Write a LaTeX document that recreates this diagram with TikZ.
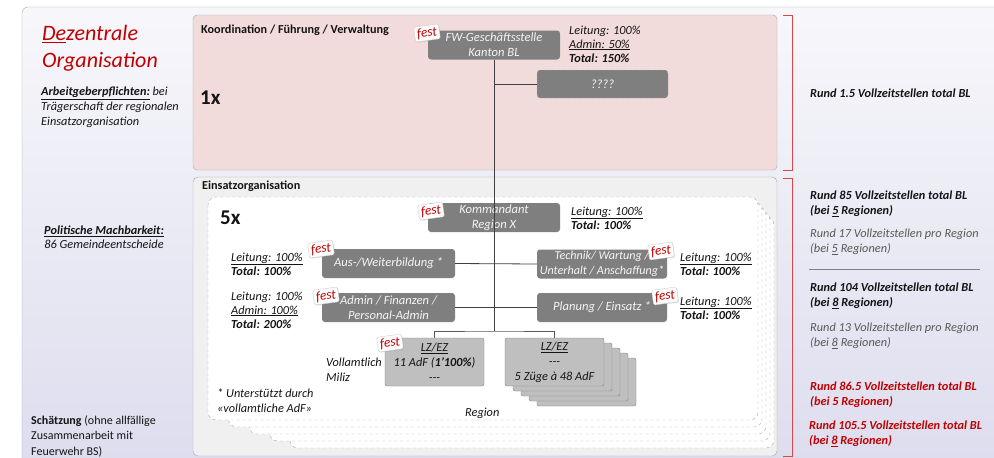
\documentclass[tikz,border=0pt]{standalone}
\usepackage{fontspec}
\setmainfont{Carlito}
\usetikzlibrary{shadows}

\definecolor{paneltop}{HTML}{F7F7FB}
\definecolor{panelbot}{HTML}{DCDCEE}
\definecolor{pinkfill}{HTML}{F2DCDB}
\definecolor{eofill}{HTML}{F0F0F0}
\definecolor{boxgray}{HTML}{7F7F7F}
\definecolor{lightbox}{HTML}{BFBFBF}
\definecolor{darkred}{HTML}{C00000}
\definecolor{bracketred}{HTML}{D9474B}
\definecolor{softtext}{HTML}{595959}

\begin{document}
\begin{tikzpicture}[x=1pt, y=-1pt,
	every node/.style={inner sep=0pt, text=black!92},
	darkbox/.style={rounded corners=3pt, fill=boxgray, text=white!92!gray, align=center,
		font=\fontsize{12.6}{15}\selectfont\itshape, minimum width=132pt, minimum height=29pt},
	lzbox/.style={draw=gray, fill=lightbox, rounded corners=2pt, align=center,
		font=\fontsize{12.3}{15}\selectfont\itshape, minimum width=99pt, minimum height=48pt},
	festtag/.style={draw=gray!40, fill=white, rounded corners=1.5pt, rotate=8, text=darkred,
		font=\fontsize{13.5}{14}\selectfont\itshape, inner xsep=2.5pt, inner ysep=2pt,
		drop shadow={opacity=0.25, shadow xshift=0.8pt, shadow yshift=-0.8pt}},
	note/.style={anchor=west, align=left, font=\fontsize{12.3}{14}\selectfont\itshape},
	sidenote/.style={anchor=west, align=left, font=\fontsize{12.3}{15}\selectfont\itshape},
	boxtitle/.style={anchor=west, font=\fontsize{12.2}{14}\selectfont\bfseries},
	bigcount/.style={anchor=west, font=\fontsize{21}{24}\selectfont\bfseries},
	link/.style={draw=black!75, line width=0.8pt},
	bracket/.style={draw=bracketred, line width=0.9pt}]

	\useasboundingbox (0,0) rectangle (994,458);
	\clip (0,0) rectangle (994,458);

	% panels
	\draw[gray!70, top color=paneltop, bottom color=panelbot, rounded corners=6pt]
		(22,7) rectangle (1010,480);
	\draw[gray!70, fill=pinkfill, rounded corners=4pt] (193,15) rectangle (777,170);
	\draw[gray!70, fill=eofill, rounded corners=5pt] (193,177) rectangle (777,456);
	\node[boxtitle] (koord) at (201,30) {Koordination / Führung / Verwaltung};
	\node[boxtitle] (eo) at (202,186) {Einsatzorganisation};
	\node[bigcount] (onex) at (200,98) {1x};

	% regions stack
	\foreach \k in {4,3,2,1,0}
		\draw[gray!65, dashed, fill=white, rounded corners=8pt]
			(208+20.5*\k,197+5*\k) rectangle (758+4*\k,420+7*\k);
	\node[bigcount] (fivex) at (220,218) {5x};

	% left column
	\node[anchor=west, align=left, text=darkred, font=\fontsize{22}{27}\selectfont\itshape]
		(title) at (42,48.5) {\underline{De}zentrale\\Organisation};
	\node[sidenote] (agp) at (41,107) {\textbf{\underline{Arbeitgeberpflichten:}} bei\\
		Trägerschaft der regionalen\\Einsatzorganisation};
	\node[anchor=west, align=center, font=\fontsize{12.3}{14}\selectfont\itshape]
		(polit) at (44,237) {\textbf{\underline{Politische Machbarkeit:}}\\86 Gemeindeentscheide};
	\node[anchor=west, align=left, font=\fontsize{12}{15.5}\selectfont]
		(schaetz) at (31,436) {\textbf{Schätzung} (ohne allfällige\\Zusammenarbeit mit\\Feuerwehr BS)};

	% cantonal office
	\node[darkbox] (fwgs) at (494,45) {FW-Geschäftsstelle\\Kanton BL};
	\node[darkbox, draw=gray!45, dashed, minimum width=131pt, minimum height=28pt]
		(unknown) at (602.5,84) {????};
	\node[note] (fwgsinfo) at (569,44) {Leitung: 100\%\\\underline{Admin: 50\%}\\\textbf{Total: 150\%}};

	% region
	\node[darkbox] (kdt) at (494,217.5) {Kommandant\\Region X};
	\node[darkbox, minimum width=133pt] (ausb) at (388.5,263.5) {Aus-/Weiterbildung *};
	\node[darkbox, minimum width=130pt, font=\fontsize{12.1}{14.5}\selectfont\itshape]
		(technik) at (602,264) {Technik/ Wartung /\\Unterhalt / Anschaffung*};
	\node[darkbox, minimum width=133pt] (admin) at (388.5,307.5) {Admin / Finanzen /\\Personal-Admin};
	\node[darkbox, minimum width=130pt] (planung) at (602,307.5) {Planung / Einsatz *};

	\node[note] (kdtinfo) at (571,218) {\underline{Leitung: 100\%}\\\textbf{Total: 100\%}};
	\node[note] (ausbinfo) at (231,264) {\underline{Leitung: 100\%}\\\textbf{Total: 100\%}};
	\node[note] (techinfo) at (680,264) {\underline{Leitung: 100\%}\\\textbf{Total: 100\%}};
	\node[note] (admininfo) at (231,310) {Leitung: 100\%\\\underline{Admin: 100\%}\\\textbf{Total: 200\%}};
	\node[note] (planinfo) at (680,308) {\underline{Leitung: 100\%}\\\textbf{Total: 100\%}};

	% fire brigades
	\foreach \k in {4,3,2,1}
		\draw[gray, fill=lightbox, rounded corners=2pt]
			(505+8*\k,338+5*\k) rectangle (604+8*\k,386+5*\k);
	\node[lzbox] (lzez) at (434.5,362) {\underline{LZ/EZ}\\11 AdF (\textbf{1’100\%})\\{-}{-}{-}};
	\node[lzbox] (lzezb) at (554.5,362) {\underline{LZ/EZ}\\{-}{-}{-}\\5 Züge à 48 AdF};
	\node[note, font=\fontsize{12.3}{15}\selectfont\itshape] (kind) at (326,369.5) {Vollamtlich\\Miliz};
	\node[note, font=\fontsize{12.3}{15}\selectfont\itshape] (star) at (217,400.5)
		{* Unterstützt durch\\«vollamtliche AdF»};
	\node[note] (region) at (465,413) {Region};

	% connectors
	\coordinate (trunk) at (494,331);
	\draw[link] (fwgs.south) -- (trunk);
	\draw[link] (fwgs.south |- unknown.west) -- (unknown.west);
	\draw[link] (ausb.east) -- (technik.west);
	\draw[link] (admin.east) -- (planung.west);
	\draw[link, draw=black!65] (lzez.north) |- (trunk) -| (lzezb.north);

	% fest tags
	\node[festtag] (festa) at (427,33) {fest};
	\node[festtag] (festb) at (431,211) {fest};
	\node[festtag] (festc) at (321,249) {fest};
	\node[festtag] (festd) at (326,296) {fest};
	\node[festtag] (feste) at (661,251) {fest};
	\node[festtag] (festf) at (665,296) {fest};
	\node[festtag] (festg) at (390,343) {fest};

	% right column
	\draw[bracket] (783,15) -- (792,15) -- (792,170) -- (783,170);
	\draw[bracket] (783,178) -- (792,178) -- (792,456) -- (783,456);
	\node[sidenote, font=\fontsize{12.3}{15}\selectfont\bfseries\itshape] (sum1) at (810,93)
		{Rund 1.5 Vollzeitstellen total BL};
	\node[sidenote, font=\fontsize{12.3}{15}\selectfont\bfseries\itshape] (sum85) at (810,203.5)
		{Rund 85 Vollzeitstellen total BL\\(bei \underline{5} Regionen)};
	\node[sidenote, text=softtext] (per17) at (810,242)
		{Rund 17 Vollzeitstellen pro Region\\(bei \underline{5} Regionen)};
	\draw[gray, line width=1pt] (809,269) -- (980,269);
	\node[sidenote, font=\fontsize{12.3}{15}\selectfont\bfseries\itshape] (sum104) at (810,295.5)
		{Rund 104 Vollzeitstellen total BL\\(bei \underline{8} Regionen)};
	\node[sidenote, text=softtext] (per13) at (810,335.5)
		{Rund 13 Vollzeitstellen pro Region\\(bei \underline{8} Regionen)};
	\node[sidenote, text=darkred, font=\fontsize{12.3}{15}\selectfont\bfseries\itshape] (sum86) at (810,395)
		{Rund 86.5 Vollzeitstellen total BL\\(bei 5 Regionen)};
	\node[sidenote, text=darkred, font=\fontsize{12.3}{15}\selectfont\bfseries\itshape] (sum105) at (809,434)
		{Rund 105.5 Vollzeitstellen total BL\\(bei \underline{8} Regionen)};
\end{tikzpicture}
\end{document}
